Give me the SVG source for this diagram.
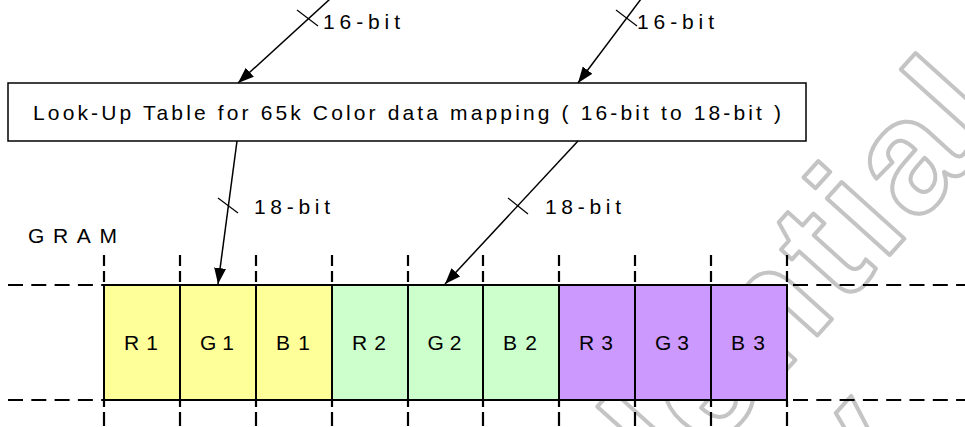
<svg xmlns="http://www.w3.org/2000/svg" width="965" height="427" viewBox="0 0 965 427">
<defs>
<style>
text{font-family:"Liberation Sans",Arial,sans-serif;font-size:21px;fill:#000}
.wm{font-family:"Liberation Sans",Arial,sans-serif;font-weight:bold;font-size:160px;letter-spacing:6px;fill:none;stroke:#c4c4c4;stroke-width:4;stroke-linejoin:round}
.dh{stroke:#000;stroke-width:2;stroke-dasharray:15 8.3;fill:none}
.dv{stroke:#000;stroke-width:2.2;fill:none}
.cell{stroke:#000;stroke-width:2}
.y{fill:#ffff99}.g{fill:#ccffcc}.p{fill:#cc99ff}
.arr{stroke:#000;stroke-width:1.5;fill:none;marker-end:url(#ah)}
.tick{stroke:#000;stroke-width:1.2}
.lbl{text-anchor:middle}
</style>
<marker id="ah" markerUnits="userSpaceOnUse" markerWidth="17" markerHeight="13" refX="16" refY="6.5" orient="auto" viewBox="0 0 17 13">
<path d="M0,0.5 L16,6.5 L0,12.5 Z" fill="#000"/>
</marker>
</defs>
<rect width="965" height="427" fill="#fff"/>
<g id="watermark" transform="translate(680,488) rotate(-48)">
<text class="wm" x="0" y="0" text-anchor="middle">Confidential</text>
<text class="wm" x="0" y="150" text-anchor="middle">Only</text>
</g>
<g id="gram-guides">
<line class="dh" x1="8" y1="285" x2="104" y2="285"/>
<line class="dh" x1="8" y1="400" x2="104" y2="400"/>
<line class="dh" x1="793" y1="285" x2="965" y2="285"/>
<line class="dh" x1="793" y1="400" x2="965" y2="400"/>
<g class="dv" stroke-dasharray="11 5">
<line x1="104" y1="255" x2="104" y2="285"/><line x1="180" y1="255" x2="180" y2="285"/><line x1="256" y1="255" x2="256" y2="285"/><line x1="332" y1="255" x2="332" y2="285"/><line x1="408" y1="255" x2="408" y2="285"/><line x1="483" y1="255" x2="483" y2="285"/><line x1="559" y1="255" x2="559" y2="285"/><line x1="635" y1="255" x2="635" y2="285"/><line x1="711" y1="255" x2="711" y2="285"/><line x1="787" y1="255" x2="787" y2="285"/>
</g>
<g class="dv" stroke-dasharray="6 5 14 5">
<line x1="104" y1="401" x2="104" y2="427"/><line x1="180" y1="401" x2="180" y2="427"/><line x1="256" y1="401" x2="256" y2="427"/><line x1="332" y1="401" x2="332" y2="427"/><line x1="408" y1="401" x2="408" y2="427"/><line x1="483" y1="401" x2="483" y2="427"/><line x1="559" y1="401" x2="559" y2="427"/><line x1="635" y1="401" x2="635" y2="427"/><line x1="711" y1="401" x2="711" y2="427"/><line x1="787" y1="401" x2="787" y2="427"/>
</g>
</g>
<g id="R1"><rect class="cell y" x="104" y="285" width="76" height="115"/><text class="lbl" x="141" y="350" textLength="34" lengthAdjust="spacing">R1</text></g>
<g id="G1"><rect class="cell y" x="180" y="285" width="76" height="115"/><text class="lbl" x="217" y="350" textLength="34" lengthAdjust="spacing">G1</text></g>
<g id="B1"><rect class="cell y" x="256" y="285" width="76" height="115"/><text class="lbl" x="293" y="350" textLength="34" lengthAdjust="spacing">B1</text></g>
<g id="R2"><rect class="cell g" x="332" y="285" width="76" height="115"/><text class="lbl" x="369" y="350" textLength="34" lengthAdjust="spacing">R2</text></g>
<g id="G2"><rect class="cell g" x="408" y="285" width="75" height="115"/><text class="lbl" x="444.5" y="350" textLength="34" lengthAdjust="spacing">G2</text></g>
<g id="B2"><rect class="cell g" x="483" y="285" width="76" height="115"/><text class="lbl" x="520" y="350" textLength="34" lengthAdjust="spacing">B2</text></g>
<g id="R3"><rect class="cell p" x="559" y="285" width="76" height="115"/><text class="lbl" x="596" y="350" textLength="34" lengthAdjust="spacing">R3</text></g>
<g id="G3"><rect class="cell p" x="635" y="285" width="76" height="115"/><text class="lbl" x="672" y="350" textLength="34" lengthAdjust="spacing">G3</text></g>
<g id="B3"><rect class="cell p" x="711" y="285" width="76" height="115"/><text class="lbl" x="748" y="350" textLength="34" lengthAdjust="spacing">B3</text></g>
<g id="gram-label"><text x="28" y="243" textLength="89" lengthAdjust="spacing">GRAM</text></g>
<g id="lut">
<rect x="8" y="83" width="798" height="58" fill="#fff" stroke="#000" stroke-width="1.5"/>
<text x="33" y="120" textLength="748" lengthAdjust="spacing">Look-Up Table for 65k Color data mapping ( 16-bit to 18-bit )</text>
</g>
<g id="connectors">
<line class="arr" x1="330" y1="-1" x2="238" y2="83"/>
<line class="arr" x1="641" y1="-1" x2="578" y2="83"/>
<line class="arr" x1="237" y1="141" x2="218" y2="284"/>
<line class="arr" x1="578" y1="141" x2="445" y2="284"/>
<line class="tick" x1="297" y1="10" x2="318" y2="26"/>
<line class="tick" x1="616" y1="10" x2="637" y2="26"/>
<line class="tick" x1="218" y1="198" x2="238" y2="213"/>
<line class="tick" x1="508" y1="198" x2="528" y2="214"/>
<text x="323" y="29" textLength="77" lengthAdjust="spacing">16-bit</text>
<text x="637" y="29" textLength="77" lengthAdjust="spacing">16-bit</text>
<text x="254" y="214" textLength="76" lengthAdjust="spacing">18-bit</text>
<text x="545" y="214" textLength="76" lengthAdjust="spacing">18-bit</text>
</g>
</svg>
